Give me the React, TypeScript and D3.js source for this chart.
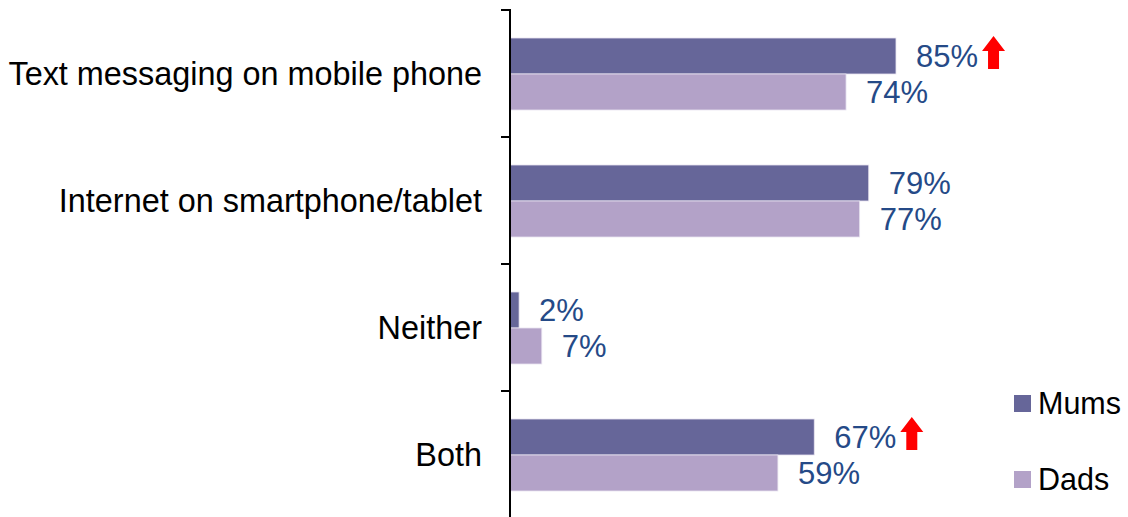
import React, { useEffect, useRef } from "react";
import * as d3 from "d3";

const categories = [
  "Text messaging on mobile phone",
  "Internet on smartphone/tablet",
  "Neither",
  "Both",
];
const seriesNames = ["Mums", "Dads"];
const mumsValues = [85, 79, 2, 67];
const dadsValues = [74, 77, 7, 59];
const mumsSignificant = [true, false, false, true];
const colors = ["#666699", "#B3A2C8"];

const W = 1128;
const H = 517;

export default function App() {
  const ref = useRef<SVGSVGElement | null>(null);

  useEffect(() => {
    const svg = d3.select(ref.current);
    svg.selectAll("*").remove();
    const font = "Liberation Sans, Arial, sans-serif";

    const x = d3.scaleLinear().domain([0, 100]).range([510, 964.1]);
    const y0 = d3.scaleBand().domain(categories).range([10, 518]).padding(0);
    const y1 = d3.scaleBand().domain(seriesNames).range([28, 100]).padding(0);

    const values = [mumsValues, dadsValues];

    // bars
    categories.forEach((cat, ci) => {
      seriesNames.forEach((s, si) => {
        const v = values[si][ci];
        const by = (y0(cat) as number) + (y1(s) as number);
        svg
          .append("rect")
          .attr("x", x(0))
          .attr("y", by)
          .attr("width", x(v) - x(0))
          .attr("height", y1.bandwidth())
          .attr("fill", colors[si])
          .attr("stroke", "#e8e4f0")
          .attr("stroke-width", 0.8);

        const cy = by + y1.bandwidth() / 2;
        const t = svg
          .append("text")
          .attr("x", x(v) + 20)
          .attr("y", cy)
          .attr("dy", "0.36em")
          .attr("font-family", font)
          .attr("font-size", 31)
          .attr("fill", "#254A87")
          .text(`${v}%`);

        if (si === 0 && mumsSignificant[ci]) {
          const len = (t.node() as SVGTextElement).getComputedTextLength();
          const ax = x(v) + 20 + len + 4;
          const top = cy - 20;
          const aw = 23;
          const headH = 15;
          const sw = 11;
          const bottom = cy + 13;
          const pts: [number, number][] = [
            [ax + aw / 2, top],
            [ax + aw, top + headH],
            [ax + aw / 2 + sw / 2, top + headH],
            [ax + aw / 2 + sw / 2, bottom],
            [ax + aw / 2 - sw / 2, bottom],
            [ax + aw / 2 - sw / 2, top + headH],
            [ax, top + headH],
          ];
          svg
            .append("path")
            .attr("d", d3.line()(pts) + "Z")
            .attr("fill", "#FF0000");
        }
      });
    });

    // axis line + ticks
    svg
      .append("line")
      .attr("x1", 510)
      .attr("x2", 510)
      .attr("y1", 10)
      .attr("y2", 518)
      .attr("stroke", "#000")
      .attr("stroke-width", 2);
    const boundaries = categories.map((c) => y0(c) as number).concat([y0.range()[1]]);
    boundaries.forEach((b) => {
      svg
        .append("line")
        .attr("x1", 501)
        .attr("x2", 511)
        .attr("y1", b)
        .attr("y2", b)
        .attr("stroke", "#000")
        .attr("stroke-width", 2);
    });

    // category labels
    categories.forEach((cat) => {
      svg
        .append("text")
        .attr("x", 482)
        .attr("y", (y0(cat) as number) + y0.bandwidth() / 2)
        .attr("dy", "0.36em")
        .attr("text-anchor", "end")
        .attr("font-family", font)
        .attr("font-size", 32.4)
        .attr("fill", "#000")
        .text(cat);
    });

    // legend
    const legendY = [395, 471];
    seriesNames.forEach((s, i) => {
      svg
        .append("rect")
        .attr("x", 1014)
        .attr("y", legendY[i])
        .attr("width", 17)
        .attr("height", 17)
        .attr("fill", colors[i]);
      svg
        .append("text")
        .attr("x", 1038)
        .attr("y", legendY[i] + 8.5)
        .attr("dy", "0.36em")
        .attr("font-family", font)
        .attr("font-size", 30.5)
        .attr("fill", "#000")
        .text(s);
    });
  }, []);

  return (
    <div style={{ position: "absolute", left: 0, top: 0 }}>
      <svg ref={ref} width={W} height={H} style={{ display: "block", background: "#fff" }} />
    </div>
  );
}
